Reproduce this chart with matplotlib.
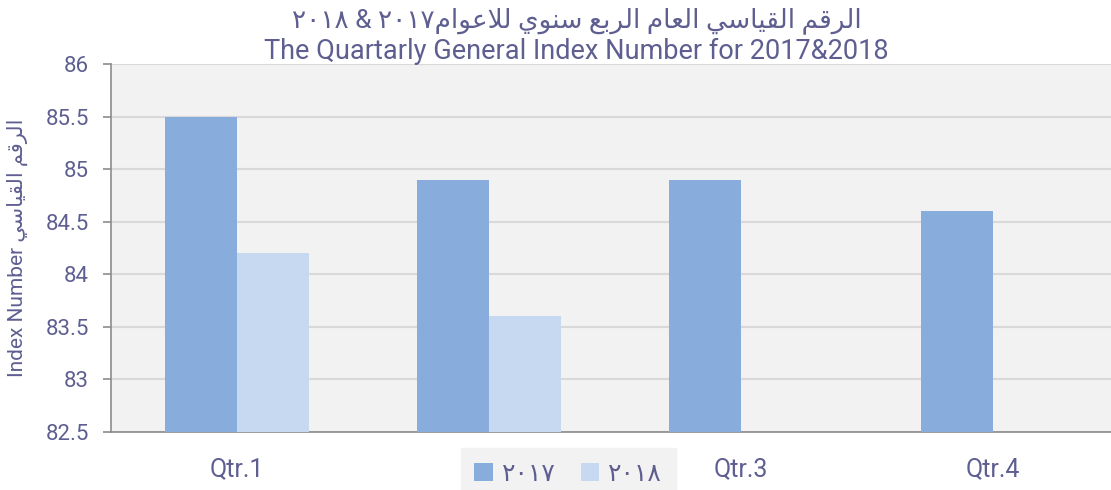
import numpy as np
import matplotlib
matplotlib.use('Agg')
import matplotlib.pyplot as plt
from matplotlib.patches import Patch

# data
quarters = ['Qtr.1', 'Qtr.2', 'Qtr.3', 'Qtr.4']
values_2017 = [85.5, 84.9, 84.9, 84.6]
values_2018 = [84.2, 83.6]
series_names = ['٢٠١٧', '٢٠١٨']

TXT = '#5E5E91'

# tiny arabic shaper (presentation forms B), enough for the words used here
FORMS = {
    'ا': ('\uFE8D', '\uFE8E', None, None),
    'ب': ('\uFE8F', '\uFE90', '\uFE91', '\uFE92'),
    'ر': ('\uFEAD', '\uFEAE', None, None),
    'س': ('\uFEB1', '\uFEB2', '\uFEB3', '\uFEB4'),
    'ع': ('\uFEC9', '\uFECA', '\uFECB', '\uFECC'),
    'ق': ('\uFED5', '\uFED6', '\uFED7', '\uFED8'),
    'ل': ('\uFEDD', '\uFEDE', '\uFEDF', '\uFEE0'),
    'م': ('\uFEE1', '\uFEE2', '\uFEE3', '\uFEE4'),
    'ن': ('\uFEE5', '\uFEE6', '\uFEE7', '\uFEE8'),
    'و': ('\uFEED', '\uFEEE', None, None),
    'ي': ('\uFEF1', '\uFEF2', '\uFEF3', '\uFEF4'),
    'لا': ('\uFEFB', '\uFEFC', None, None),
}


def rtl(text):
    chars = []
    i = 0
    while i < len(text):
        if text[i] == 'ل' and i + 1 < len(text) and text[i + 1] == 'ا':
            chars.append('لا')
            i += 2
        else:
            chars.append(text[i])
            i += 1
    out = []
    for k, c in enumerate(chars):
        if c not in FORMS:
            out.append(c)
            continue
        iso, fin, ini, med = FORMS[c]
        prev_joins = k > 0 and chars[k - 1] in FORMS and FORMS[chars[k - 1]][2] is not None
        next_letter = k < len(chars) - 1 and chars[k + 1] in FORMS
        if ini is not None and next_letter:
            out.append(med if prev_joins else ini)
        else:
            out.append(fin if prev_joins else iso)
    return ''.join(reversed(out))


plt.rcParams['font.family'] = ['Roboto', 'DejaVu Sans']

fig = plt.figure(figsize=(11.11, 4.9), dpi=100)
ax = fig.add_axes([111 / 1111, 58 / 490, 1008 / 1111, 368 / 490])
ax.set_facecolor('#F2F2F2')

x = np.arange(len(quarters))
w = 0.286
ax.bar(x - w / 2, values_2017, w, color='#88ADDC', zorder=3)
ax.bar(x[:len(values_2018)] + w / 2, values_2018, w, color='#C6D9F0', zorder=3)

ax.set_xlim(-0.5, 3.5)
ax.set_ylim(82.5, 86)
ax.set_yticks(np.arange(82.5, 86.01, 0.5))
ax.set_yticklabels(['82.5', '83', '83.5', '84', '84.5', '85', '85.5', '86'])
ax.set_xticks(x)
ax.set_xticklabels(quarters)
# in the original the legend box sits right on top of the Qtr.2 label
ax.get_xticklabels()[1].set_visible(False)
ax.yaxis.grid(True, color='#D9D9D9', linewidth=1.5, zorder=0)
ax.set_axisbelow(True)

for s in ['top', 'right']:
    ax.spines[s].set_visible(False)
for s in ['left', 'bottom']:
    ax.spines[s].set_color('#8C8C8C')
    ax.spines[s].set_linewidth(1.2)
ax.tick_params(axis='y', colors='#8C8C8C', labelcolor=TXT, labelsize=16, length=6, width=1.2, pad=10)
ax.tick_params(axis='x', length=0, labelcolor=TXT, labelsize=18, pad=18)

ax.set_ylabel('Index Number ' + rtl('الرقم القياسي'), color=TXT, fontsize=15)
ax.yaxis.set_label_coords(-0.082, 0.5)

fig.text(0.519, 0.958, '٢٠١٨ & ٢٠١٧' + rtl('الرقم القياسي العام الربع سنوي للاعوام'),
         ha='center', va='center', color=TXT, fontsize=19)
fig.text(0.519, 0.895, 'The Quartarly General Index Number for 2017&2018',
         ha='center', va='center', color=TXT, fontsize=19.5)

handles = [Patch(facecolor='#88ADDC'), Patch(facecolor='#C6D9F0')]
leg = fig.legend(handles, series_names, loc='lower center', bbox_to_anchor=(568 / 1111, -0.02),
                 ncol=2, frameon=True, fancybox=False, facecolor='#F2F2F2', edgecolor='#F2F2F2',
                 handlelength=0.75, handleheight=0.75, handletextpad=0.35, columnspacing=1.0,
                 borderpad=0.55, borderaxespad=0.0, fontsize=18, labelcolor=TXT)
leg.get_frame().set_alpha(1)

fig.savefig('out.png', dpi=100)
